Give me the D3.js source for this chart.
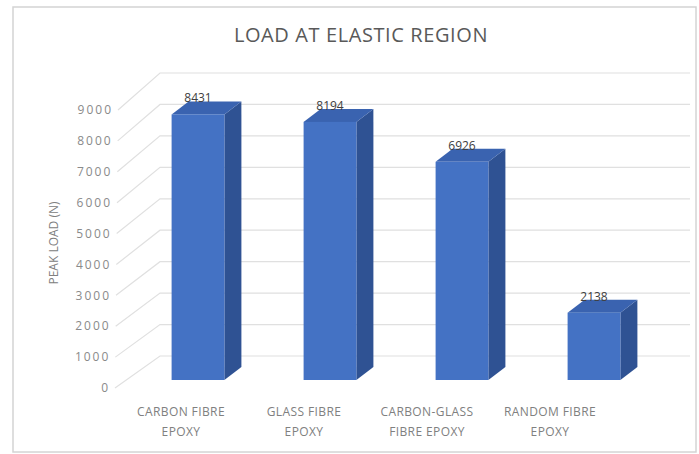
<!DOCTYPE html>
<html>
<head>
<meta charset="utf-8">
<script src="https://cdn.jsdelivr.net/npm/d3@7"></script>
<style>
  html, body { margin: 0; padding: 0; background: #ffffff; }
  svg { display: block; font-family: "Open Sans", "Liberation Sans", sans-serif; }
</style>
</head>
<body>
<svg id="chart" width="699" height="454"></svg>
<script>
// Peak load of each laminate in the elastic region
const categories = ["CARBON FIBRE EPOXY", "GLASS FIBRE EPOXY", "CARBON-GLASS FIBRE EPOXY", "RANDOM FIBRE EPOXY"];
const categoryLines = [["CARBON FIBRE", "EPOXY"], ["GLASS FIBRE", "EPOXY"], ["CARBON-GLASS", "FIBRE EPOXY"], ["RANDOM FIBRE", "EPOXY"]];
const peakLoad = [8431, 8194, 6926, 2138];
const yTicks = [0, 1000, 2000, 3000, 4000, 5000, 6000, 7000, 8000, 9000];

const svg = d3.select("#chart");

// chart frame
svg.append("rect")
  .attr("x", 13).attr("y", 7).attr("width", 683).attr("height", 445)
  .attr("fill", "#ffffff").attr("stroke", "#d4d4d4").attr("stroke-width", 1.5);

// 3D geometry: depth offsets of the plot box and of the columns
const barDX = 17, barDY = -13;     // column depth

// value scales at the front edge (labels), on the back wall and on the column faces
const yFront = d3.scaleLinear().domain([0, 9000]).range([388, 110]);
const yBack = d3.scaleLinear().domain([0, 9000]).range([356, 73]);
const yBar = d3.scaleLinear().domain([0, 9000]).range([380, 96.5]);

const xBar = d3.scaleBand().domain(categories).range([132, 660]).paddingInner(0.6).paddingOuter(0.3);
const xLabel = d3.scalePoint().domain(categories).range([181, 550]);

const backLeft = 160, backRight = 690;
const frontX = v => 115 + 3 * v / 9000;

// side wall and back wall gridlines
const grid = svg.append("g").attr("fill", "none").attr("stroke", "#e0e0e0").attr("stroke-width", 1.2);
grid.selectAll("path.grid")
  .data(yTicks)
  .join("path")
  .attr("class", "grid")
  .attr("d", v => `M${frontX(v)},${yFront(v)} L${backLeft},${yBack(v)} L${backRight},${yBack(v)}`);

// axis tick labels along the front edge
svg.append("g")
  .selectAll("text")
  .data(yTicks)
  .join("text")
  .attr("x", v => frontX(v) - 5)
  .attr("y", v => yFront(v))
  .attr("dy", "0.35em")
  .attr("text-anchor", "end")
  .attr("font-size", 12)
  .attr("letter-spacing", 2)
  .attr("fill", "#8a8a8a")
  .text(v => v);

// axis title
svg.append("text")
  .attr("transform", "translate(54,243) rotate(-90)")
  .attr("text-anchor", "middle")
  .attr("dy", "0.35em")
  .attr("font-size", 12)
  .attr("fill", "#808080")
  .text("PEAK LOAD (N)");

// columns: front, side and top faces
const bars = svg.append("g").selectAll("g")
  .data(categories.map((c, i) => ({ c, v: peakLoad[i] })))
  .join("g");

bars.append("path")
  .attr("fill", "#2f5293")
  .attr("d", d => {
    const x1 = xBar(d.c) + xBar.bandwidth(), yt = yBar(d.v), yb = yBar(0);
    return `M${x1},${yt} L${x1 + barDX},${yt + barDY} L${x1 + barDX},${yb + barDY} L${x1},${yb} Z`;
  });

bars.append("path")
  .attr("fill", "#3a63b0")
  .attr("d", d => {
    const x0 = xBar(d.c), x1 = x0 + xBar.bandwidth(), yt = yBar(d.v);
    return `M${x0},${yt} L${x0 + barDX},${yt + barDY} L${x1 + barDX},${yt + barDY} L${x1},${yt} Z`;
  });

bars.append("rect")
  .attr("fill", "#4472c4")
  .attr("x", d => xBar(d.c))
  .attr("y", d => yBar(d.v))
  .attr("width", xBar.bandwidth())
  .attr("height", d => yBar(0) - yBar(d.v));

// value labels
bars.append("text")
  .attr("x", d => xBar(d.c) + xBar.bandwidth() / 2)
  .attr("y", d => yBar(d.v) + barDY + 1)
  .attr("text-anchor", "middle")
  .attr("font-size", 12)
  .attr("fill", "#404040")
  .text(d => d.v);

// category labels
const cat = svg.append("g").selectAll("text")
  .data(categories)
  .join("text")
  .attr("text-anchor", "middle")
  .attr("font-size", 12)
  .attr("letter-spacing", 0.4)
  .attr("fill", "#808080");
cat.selectAll("tspan")
  .data((c, i) => categoryLines[i].map(t => ({ t, x: xLabel(c) })))
  .join("tspan")
  .attr("x", d => d.x)
  .attr("y", (d, j) => 416 + j * 20)
  .text(d => d.t);

// title
svg.append("text")
  .attr("x", 361).attr("y", 42)
  .attr("text-anchor", "middle")
  .attr("font-size", 20)
  .attr("letter-spacing", 0.6)
  .attr("fill", "#595959")
  .text("LOAD AT ELASTIC REGION");
</script>
</body>
</html>
